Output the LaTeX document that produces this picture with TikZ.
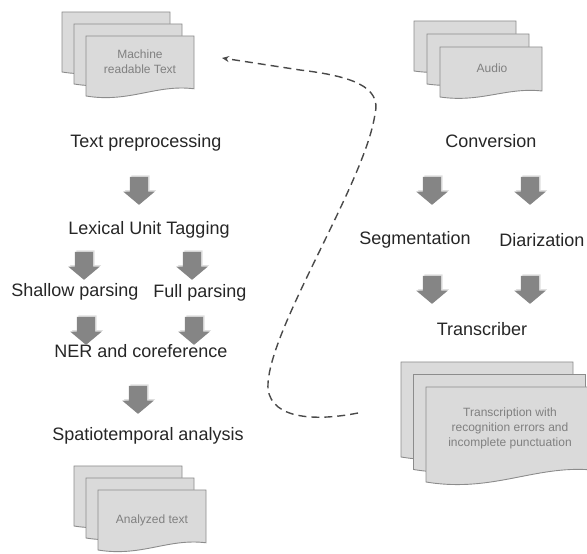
\documentclass[tikz,border=0pt]{standalone}
\usepackage{fontspec}
\setmainfont{Liberation Sans}
\usetikzlibrary{shapes.arrows,shadows,arrows.meta}

\definecolor{sheetfill}{HTML}{DADADA}
\definecolor{sheetline}{HTML}{8C8C8C}
\definecolor{arrowfill}{HTML}{858585}
\definecolor{linkgray}{HTML}{4A4A4A}

% one sheet of a document stack: top-left x, y, width, height
\newcommand{\docsheet}[4]{%
  \begin{scope}[shift={(#1,#2)}, xscale=#3, yscale=#4]
    \draw[sheet] (0,0) -- (1,0) -- (1,-0.88) .. controls (0.65,-0.8) and (0.4,-1.12) .. (0,-1) -- cycle;
  \end{scope}}

% three sheets, each one step right and down: x, y, width, height, step
\newcommand{\docstack}[5]{%
  \foreach \k in {0,1,2} {
    \docsheet{#1+#5*\k}{#2-#5*\k}{#3}{#4}
  }}

\begin{document}
\begin{tikzpicture}[x=1pt, y=1pt,
    sheet/.style={fill=sheetfill, draw=sheetline, line width=0.9pt},
    doctext/.style={text=gray, font=\fontsize{12}{15}\selectfont, align=center},
    steplabel/.style={text=black!85, font=\fontsize{18}{21}\selectfont},
    blockarrow/.style={single arrow, rotate=-90, draw=none, fill=arrowfill,
      minimum height=28pt, inner xsep=1pt, inner ysep=9pt, single arrow head extend=6.5pt,
      single arrow tip angle=100,
      drop shadow={shadow xshift=1.5pt, shadow yshift=1.5pt, opacity=0.25}},
    backlink/.style={draw=linkgray, line width=1.4pt, dash pattern=on 8pt off 5pt,
      -{Stealth[length=7pt, width=6pt]}}]
  \useasboundingbox (0,0) rectangle (587,554);
  \clip (0,0) rectangle (587,554);

  % Document stacks
  \docstack{62}{542}{108}{60}{12}
  \docstack{414}{533}{102}{50}{13}
  \docstack{401}{192}{172}{95}{12.5}
  \docstack{74}{88}{108}{60}{12}

  \node[doctext] (machine) at (140,492) {Machine\\readable Text};
  \node[doctext] (audio) at (492,486) {Audio};
  \node[doctext] (transcript) at (510,126) {Transcription with\\recognition errors and\\incomplete punctuation};
  \node[doctext] (analyzed) at (152,34) {Analyzed text};

  % Text pipeline
  \node[steplabel] (pre) at (146,411) {Text preprocessing};
  \node[steplabel] (lex) at (149,324) {Lexical Unit Tagging};
  \node[steplabel] (shallow) at (75,262) {Shallow parsing};
  \node[steplabel] (full) at (200,261) {Full parsing};
  \node[steplabel] (ner) at (141,203) {NER and coreference};
  \node[steplabel] (spatio) at (148,118) {Spatiotemporal analysis};

  % Audio pipeline
  \node[steplabel] (conv) at (491,413) {Conversion};
  \node[steplabel] (seg) at (415,314) {Segmentation};
  \node[steplabel] (diar) at (542,314) {Diarization};
  \node[steplabel] (transcr) at (482,225) {Transcriber};

  % Block arrows
  \foreach \n/\x/\y in {a1/139/367, a2/84/292, a3/192/292, a4/86/227, a5/194/227,
      a6/138/158, b1/432/367, b2/530/367, b3/432/268, b4/530/268} {
    \node[blockarrow] (\n) at (\x,\y) {};
  }

  % Feedback link
  \coordinate (trOut) at (358,141);
  \coordinate (mrIn) at (222,496);
  \draw[backlink] (trOut) .. controls (318,133) and (272,134) .. (268,165)
    .. controls (265,220) and (365,370) .. (375,440)
    .. controls (382,468) and (350,478) .. (300,484) -- (mrIn);
\end{tikzpicture}
\end{document}
